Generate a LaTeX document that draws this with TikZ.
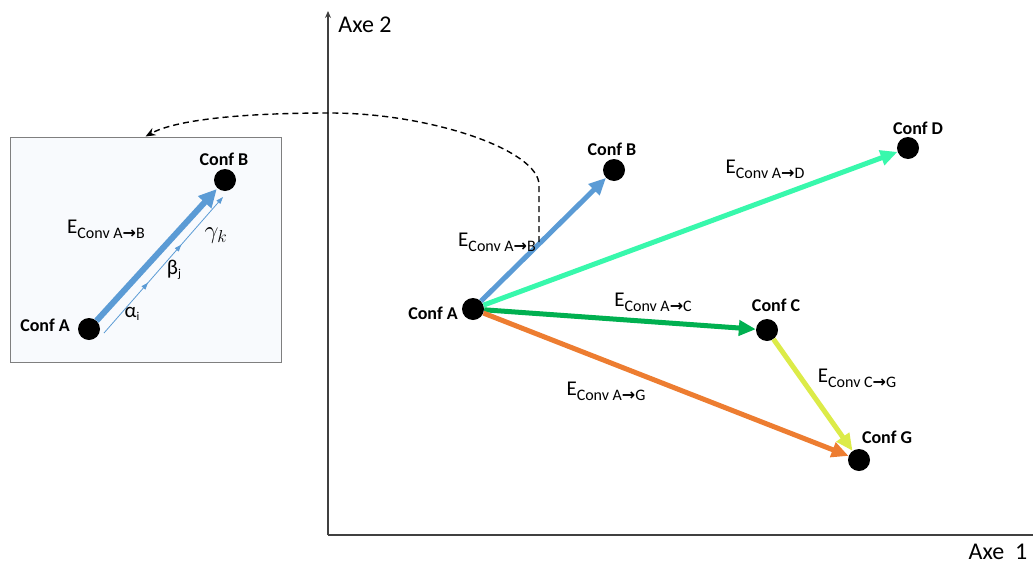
\documentclass[tikz,border=0pt]{standalone}
\usepackage{fontspec}
\setmainfont{Carlito}
\newfontfamily\symf{DejaVu Sans}
\usetikzlibrary{arrows.meta,decorations.markings}
\definecolor{cblue}{HTML}{5B9BD5}
\definecolor{cteal}{HTML}{38F8AC}
\definecolor{cgreen}{HTML}{00B050}
\definecolor{corange}{HTML}{ED7D31}
\definecolor{cyell}{HTML}{DCEB48}
\definecolor{boxfill}{HTML}{F8FAFD}
\definecolor{boxline}{HTML}{7F7F7F}
\definecolor{axisc}{HTML}{404040}
\newcommand{\arr}{{\symf\bfseries →}}
\newcommand{\Econv}[1]{\fontsize{21}{21}\selectfont E\raisebox{-5pt}{\fontsize{16}{16}\selectfont Conv #1}}
\tikzset{
  dot/.style={circle,fill=black,inner sep=0pt,minimum size=22pt},
  conflab/.style={font=\fontsize{18}{18}\selectfont\bfseries,inner sep=0pt},
  elab/.style={inner sep=0pt},
  axlab/.style={font=\fontsize{24}{24}\selectfont,inner sep=0pt},
  vec/.style={line width=5pt,-{Triangle[length=17pt,width=15pt]}},
  axis/.style={line width=1.1pt,draw=axisc},
}
\begin{document}
\begin{tikzpicture}[x=1pt,y=-1pt]
\useasboundingbox (0,0) rectangle (1033,565);
% axes
\coordinate (o) at (328,535);
\coordinate (ytop) at (328,11);
\coordinate (xend) at (1033,535);
\draw[axis,-{Stealth[length=7pt,width=6pt]}] (o) -- (ytop);
\draw[axis] (o) -- (xend);
\node[axlab] (ax2) at (365,25) {Axe 2};
\node[axlab] (ax1) at (998,552) {Axe~~1};
% inset
\node[draw=boxline,fill=boxfill,line width=1pt,minimum width=271pt,minimum height=225pt,inner sep=0pt] (inset) at (145.5,249.5) {};
\node[dot] (iA) at (89,329) {};
\node[dot] (iB) at (225,180) {};
\draw[cblue,line width=6pt,-{Triangle[length=18pt,width=17pt]},shorten >=1pt] (iA) -- (iB);
\coordinate (t0) at (104,333);
\coordinate (t1) at (223,197);
\draw[cblue,line width=0.8pt,-{Triangle[length=7pt,width=5pt]},
  postaction={decorate,decoration={markings,
    mark=at position 0.37 with {\arrow{Triangle[length=7pt,width=5pt]}},
    mark=at position 0.65 with {\arrow{Triangle[length=7pt,width=5pt]}}}}] (t0) -- (t1);
\node[conflab] (liA) at (45,325) {Conf A};
\node[conflab] (liB) at (224,159) {Conf B};
\node[elab] (ieab) at (106,229) {\Econv{A\arr B}};
\node[inner sep=0pt,font=\fontsize{21}{21}\selectfont] (alpha) at (132,314) {α\raisebox{-3pt}{\fontsize{12}{12}\selectfont i}};
\node[inner sep=0pt,font=\fontsize{21}{21}\selectfont] (beta) at (174,270) {β\raisebox{-3pt}{\fontsize{12}{12}\selectfont j}};
\node[inner sep=0pt] (gamma) at (216,236) {\fontsize{24}{24}\selectfont$\gamma_k$};
% main
\node[dot] (A) at (473,309) {};
\node[dot] (B) at (614,170) {};
\node[dot] (D) at (908,148) {};
\node[dot] (C) at (767,330) {};
\node[dot] (G) at (859,460) {};
\draw[vec,cteal] (A) -- (D);
\draw[vec,cgreen] (A) -- (C);
\draw[vec,corange] (A) -- (G);
\draw[vec,cyell] (C) -- (G);
\draw[vec,cblue] (A) -- (B);
\node[conflab] (lA) at (433,313) {Conf A};
\node[conflab] (lB) at (612,149) {Conf B};
\node[conflab] (lC) at (776,305) {Conf C};
\node[conflab] (lD) at (918,128) {Conf D};
\node[conflab] (lG) at (887,437) {Conf G};
\node[elab] (eab) at (497,242) {\Econv{A\arr B}};
\node[elab] (ead) at (765,169) {\Econv{A\arr D}};
\node[elab] (eac) at (653,302) {\Econv{A\arr C}};
\node[elab] (eag) at (606,391) {\Econv{A\arr G}};
\node[elab] (ecg) at (857,378) {\Econv{C\arr G}};
% dashed connector
\coordinate (ds) at (539,242);
\draw[line width=1.4pt,dash pattern=on 6pt off 4pt,-{Stealth[length=10pt,width=8pt]}]
  (ds) -- (539,185) .. controls (539,150) and (430,113) .. (330,113)
  .. controls (240,113) and (175,120) .. (inset.north);
\end{tikzpicture}
\end{document}
